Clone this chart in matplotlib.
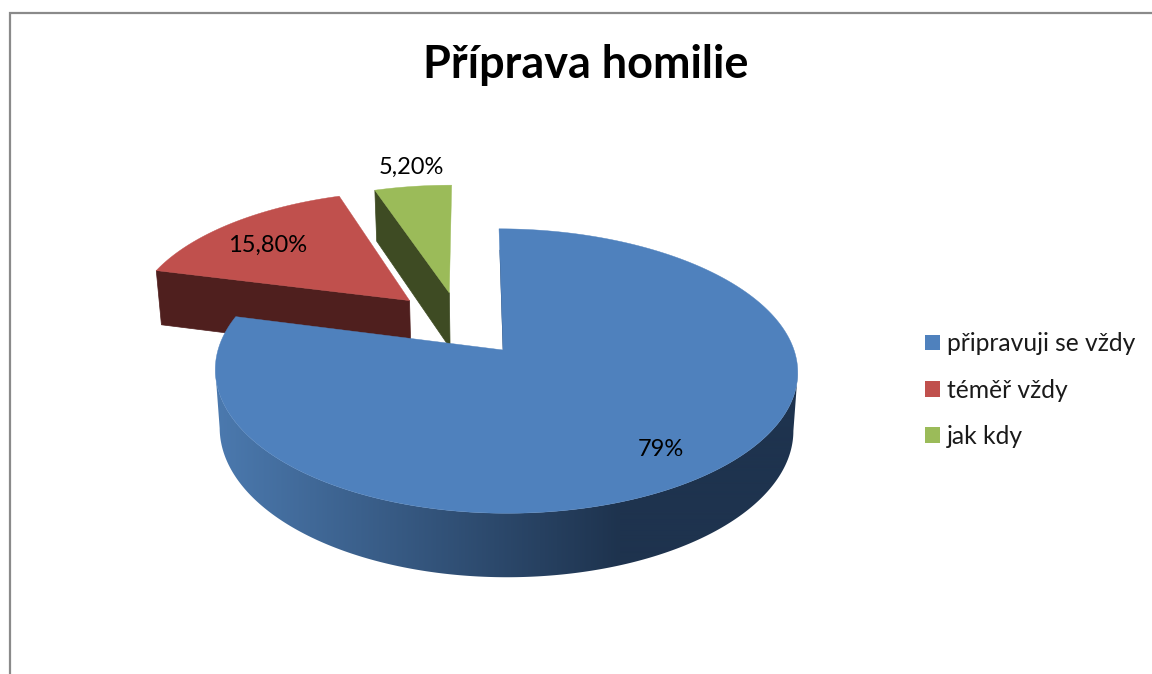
import numpy as np
import matplotlib
matplotlib.use("Agg")
import matplotlib.pyplot as plt
from matplotlib.colors import to_rgb
from matplotlib.patches import Patch, Polygon

# chart data
title = "Příprava homilie"
categories = ["připravuji se vždy", "téměř vždy", "jak kdy"]
values = [79, 15.8, 5.2]
value_labels = ["79%", "15,80%", "5,20%"]

top_colors = ["#4F81BD", "#C0504D", "#9BBB59"]
wall_colors = [None, "#4F1F1E", "#3E4B23"]

# how far each slice is pulled out, in disc units (u = right, v = away)
explode = [(0.0, 0.0), (-0.337, 0.375), (-0.192, 0.437)]

# the 3d look: disc seen from above with some perspective
cx, cy = 503, 350
radius = 288
squash = 0.483
persp = 0.148
shear = 4


def project(u, v, lower=False):
    s = 1 / (1 + persp * v)
    x = radius * u * s
    y = -squash * radius * v * s
    if lower:
        x = x * 0.985
        y = y + 19.6 + 37.8 * s
    return cx + x - shear * v, cy + y


def rim(slice_no, start, stop, lower=False, n=160):
    # points on the round edge of a slice, angles clockwise from 12 o'clock
    t = np.radians(np.linspace(start, stop, n))
    ex, ey = explode[slice_no]
    x, y = project(ex + np.sin(t), ey + np.cos(t), lower)
    if slice_no == 0:
        # the big slice sits a bit to the right of its tip
        x = x + 3 * np.sin(t) ** 2
    return x, y


def radial_wall(slice_no, angle):
    ex, ey = explode[slice_no]
    t = np.radians(angle)
    x1, y1 = project(ex, ey)
    x2, y2 = project(ex + np.sin(t), ey + np.cos(t))
    x3, y3 = project(ex + np.sin(t), ey + np.cos(t), True)
    x4, y4 = project(ex, ey, True)
    return [x1, x2, x3, x4], [y1, y2, y3, y4]


fig = plt.figure(figsize=(11.52, 6.74), dpi=100)
ax = fig.add_axes([0, 0, 1, 1])

# frame of the chart, cut off at the right and bottom
ax.plot([9.5, 9.5, 1152], [674, 13, 13], color="#8A8A8A", lw=1.6, solid_joinstyle="miter", zorder=1)

# slice angles out of the values
edges = np.concatenate([[0], np.cumsum(values)]) * 360 / sum(values)

# walls of the pulled out slices go first, the big slice covers them
for i in [2, 1]:
    wx, wy = radial_wall(i, edges[i])
    ax.fill(wx, wy, color=wall_colors[i], lw=0.5, zorder=2)
    tx, ty = rim(i, edges[i], edges[i + 1])
    ex, ey = project(*explode[i])
    ax.fill(np.append(tx, ex), np.append(ty, ey), color=top_colors[i], lw=0.3, zorder=2)

# side of the big slice, shaded from left to right
dark = np.array(to_rgb("#1E334E"))
light = np.array(to_rgb("#4B79AE"))
tx, ty = rim(0, 60, edges[1], n=500)
bx, by = rim(0, 60, edges[1], lower=True, n=500)
# only from the rightmost to the leftmost point, else the outline crosses itself
t0, t1 = tx.argmax(), tx.argmin()
b0, b1 = bx.argmax(), bx.argmin()
outline_x = np.concatenate([tx[t0:t1 + 1], bx[b0:b1 + 1][::-1]])
outline_y = np.concatenate([ty[t0:t1 + 1], by[b0:b1 + 1][::-1]])
side = Polygon(np.column_stack([outline_x, outline_y]), closed=True,
               transform=ax.transData, facecolor="none", edgecolor="none")
ax.add_patch(side)
grad_x = np.linspace(200, 820, 620)
f = np.clip((grad_x - 218) / (620 - 218), 0, 1)[None, :, None]
shade = light[None, None, :] + (dark - light)[None, None, :] * f
img = ax.imshow(shade, extent=(200, 820, 600, 250), aspect="auto", zorder=3, interpolation="bilinear")
img.set_clip_path(side)

# thin dark face on the straight edge at 12 o'clock
lx, ly = project(np.zeros(2), np.array([0.0, 0.8]))
ax.plot(lx + 0.4, ly, color="#1E334E", lw=0.9, zorder=4)

tx, ty = rim(0, 0, edges[1], n=500)
ex, ey = project(*explode[0])
ax.fill(np.append(tx, ex), np.append(ty, ey), color=top_colors[0], lw=0.3, zorder=5)

ax.set_xlim(0, 1152)
ax.set_ylim(674, 0)
ax.axis("off")

# labels
ax.text(661, 449, value_labels[0], ha="center", va="center", fontsize=17, family="Lato", color="black", zorder=6)
ax.text(268, 245, value_labels[1], ha="center", va="center", fontsize=17, family="Lato", color="black", zorder=6)
ax.text(411, 167, value_labels[2], ha="center", va="center", fontsize=17, family="Lato", color="black", zorder=6)

ax.text(586, 65, title, ha="center", va="center", fontsize=32.4, fontweight="bold", family="Lato", color="black", zorder=6)

handles = [Patch(facecolor=c, edgecolor="none") for c in top_colors]
ax.legend(handles, categories, loc="center left", bbox_to_anchor=(925, 390),
          bbox_transform=ax.transData, frameon=False, borderpad=0, borderaxespad=0,
          prop={"family": "Lato", "size": 17.7}, handlelength=0.61, handleheight=0.61,
          handletextpad=0.285, labelspacing=0.95, labelcolor="#1a1a1a")

fig.savefig("out.png", dpi=100)
